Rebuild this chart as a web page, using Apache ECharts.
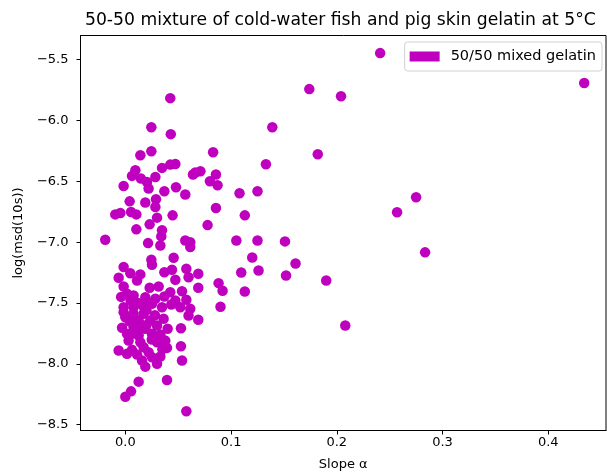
<!DOCTYPE html>
<html>
<head>
<meta charset="utf-8">
<script src="https://cdn.jsdelivr.net/npm/echarts@6/dist/echarts.min.js"></script>
<style>html,body{margin:0;padding:0;background:#fff}#c{width:607px;height:473px}</style>
</head>
<body>
<div id="c"></div>
<script>
const seriesName = '50/50 mixed gelatin';
const xTicks = [0.0, 0.1, 0.2, 0.3, 0.4];
const yTicks = [-8.5, -8.0, -7.5, -7.0, -6.5, -6.0, -5.5];
const outlierPoints = [
  [0.241,-5.447],[0.434,-5.693],[0.174,-5.743],[0.204,-5.801],[0.0425,-5.817],[0.139,-6.056],
  [0.182,-6.278],[0.043,-6.113],[0.0246,-6.056],[0.133,-6.360],[0.083,-6.261],[0.275,-6.632],
  [0.257,-6.755],[0.2835,-7.084],[0.125,-6.582],[0.108,-6.599],[0.113,-6.780],[0.105,-6.986],
  [0.125,-6.986],[0.151,-6.994],[0.120,-7.126],[0.161,-7.175],[0.1096,-7.249],[0.126,-7.233],
  [0.152,-7.274],[0.190,-7.315],[0.113,-7.405],[0.208,-7.685],[0.0577,-8.39]
];
const midPoints = [
  [0.071,-6.418],[0.0857,-6.445],[0.080,-6.5],[0.0872,-6.533],[0.0857,-6.72],[0.0778,-6.86],
  [0.069,-7.26],[0.069,-7.375],[0.0882,-7.337],[0.092,-7.4],[0.090,-7.531],[0.069,-7.637]
];
const upperClusterPoints = [
  [0.0142,-6.286],[0.0246,-6.253],[0.0095,-6.409],[0.0347,-6.39],[0.0425,-6.363],[0.0473,-6.358],
  [0.0063,-6.456],[0.0148,-6.478],[0.0205,-6.506],[0.0284,-6.465],[0.022,-6.56],[0.0662,-6.428],
  [0.064,-6.445],[-0.0016,-6.539],[0.0369,-6.582],[0.0479,-6.549],[0.0567,-6.609],[0.0041,-6.665],
  [0.0189,-6.675],[0.029,-6.648],[0.0284,-6.711]
];
const middleClusterPoints = [
  [-0.0095,-6.772],[-0.0047,-6.761],[0.0054,-6.753],[0.0104,-6.772],[0.030,-6.799],[0.0447,-6.78],
  [0.0104,-6.895],[0.023,-6.854],[0.0347,-6.903],[0.034,-6.953],[-0.019,-6.98],[0.0215,-7.008],
  [0.0331,-7.027],[0.0567,-6.986],[0.0614,-7.0],[0.0614,-7.041],[0.0246,-7.144],[0.0252,-7.186],
  [0.0457,-7.128],[-0.0016,-7.205],[0.0047,-7.255],[0.0142,-7.265],[0.0369,-7.247],[0.0441,-7.227],
  [0.0577,-7.218],[-0.0063,-7.293],[0.0111,-7.315],[0.0473,-7.309],[0.0598,-7.288],[-0.0016,-7.364],
  [0.023,-7.375],[0.0315,-7.364],[0.0425,-7.411],[0.0536,-7.403],[0.0016,-7.424],[0.0078,-7.438],
  [0.0189,-7.452],[0.0284,-7.465],[0.0369,-7.447],[0.0473,-7.479],[0.0577,-7.474],[-0.0016,-7.535],
  [0.0078,-7.535],[0.0173,-7.529],[0.0252,-7.507],[0.0347,-7.535],[0.0435,-7.512],[0.052,-7.535],
  [0.0614,-7.548],[-0.004,-7.45],[0.005,-7.48],[0.012,-7.5],[0.02,-7.49]
];
const lowerClusterPoints = [
  [-0.0016,-7.576],[0.0078,-7.589],[0.0173,-7.589],[0.0,-7.617],[0.0126,-7.644],[0.0236,-7.644],
  [0.0362,-7.63],[0.0598,-7.603],[-0.0031,-7.704],[0.0078,-7.699],[0.0189,-7.712],[0.030,-7.685],
  [0.040,-7.712],[0.0526,-7.707],[0.0016,-7.753],[0.0126,-7.767],[0.0252,-7.753],[0.0331,-7.759],
  [0.0031,-7.809],[0.0142,-7.823],[0.030,-7.823],[0.0378,-7.809],[0.0173,-7.864],[0.0394,-7.869],
  [0.0526,-7.856],[-0.0063,-7.891],[0.0063,-7.885],[0.0016,-7.918],[0.0111,-7.924],[0.022,-7.905],
  [0.0252,-7.946],[0.0331,-7.94],[0.0158,-7.973],[0.0536,-7.973],[0.0189,-8.023],[0.030,-8.0],
  [0.0126,-8.146],[0.0394,-8.132],[0.0054,-8.226],[0.0,-8.27],
  [0.02,-7.56],[0.028,-7.6],[0.004,-7.65],[0.015,-7.7],[0.025,-7.8],[0.008,-7.75],[0.035,-7.88],[0.02,-7.68]
];

const allPoints = [].concat(outlierPoints, midPoints, upperClusterPoints, middleClusterPoints, lowerClusterPoints);
const fmt = v => v.toFixed(1).replace('-', '\u2212');
const FONT = 'DejaVu Sans';

const chart = echarts.init(document.getElementById('c'), null, {renderer: 'canvas'});
chart.setOption({
  animation: false,
  backgroundColor: '#fff',
  title: {
    text: '50-50 mixture of cold-water fish and pig skin gelatin at 5°C',
    left: 80, top: 7,
    textStyle: {fontFamily: FONT, fontSize: 17.2, fontWeight: 'normal', color: '#000'}
  },
  legend: {
    data: [seriesName], right: 5, top: 42,
    icon: 'rect', itemWidth: 30, itemHeight: 10, itemGap: 8,
    padding: [7, 6, 7, 5], borderColor: '#d0d0d0', borderWidth: 1, borderRadius: 3,
    backgroundColor: 'rgba(255,255,255,0.8)',
    textStyle: {fontFamily: FONT, fontSize: 14.5, color: '#000', padding: [0, 0, 0, 6]}
  },
  grid: {left: 80.5, right: 1, top: 35.5, bottom: 42.5, show: true, borderColor: '#000', borderWidth: 1,
         containLabel: false, outerBoundsMode: 'none'},
  xAxis: {
    type: 'value', min: -0.0424, max: 0.4546,
    name: 'Slope α', nameLocation: 'middle', nameGap: 28,
    nameTextStyle: {fontFamily: FONT, fontSize: 13, color: '#000'},
    axisLine: {show: true, onZero: false, lineStyle: {color: '#000'}},
    axisTick: {show: true, length: 4, lineStyle: {color: '#000'}, customValues: xTicks},
    axisLabel: {fontFamily: FONT, fontSize: 13, color: '#000', margin: 6, customValues: xTicks, formatter: fmt},
    splitLine: {show: false}
  },
  yAxis: {
    type: 'value', min: -8.5475, max: -5.3025,
    name: 'log(msd(10s))', nameLocation: 'middle', nameGap: 55,
    nameTextStyle: {fontFamily: FONT, fontSize: 13, color: '#000'},
    axisLine: {show: true, onZero: false, lineStyle: {color: '#000'}},
    axisTick: {show: true, length: 4, lineStyle: {color: '#000'}, customValues: yTicks},
    axisLabel: {fontFamily: FONT, fontSize: 13, color: '#000', margin: 12, customValues: yTicks, formatter: fmt},
    splitLine: {show: false}
  },
  series: [{
    name: seriesName, type: 'scatter', data: allPoints,
    symbol: 'circle', symbolSize: 10.5,
    itemStyle: {color: '#bf00bf', opacity: 1}
  }]
});
</script>
</body>
</html>
